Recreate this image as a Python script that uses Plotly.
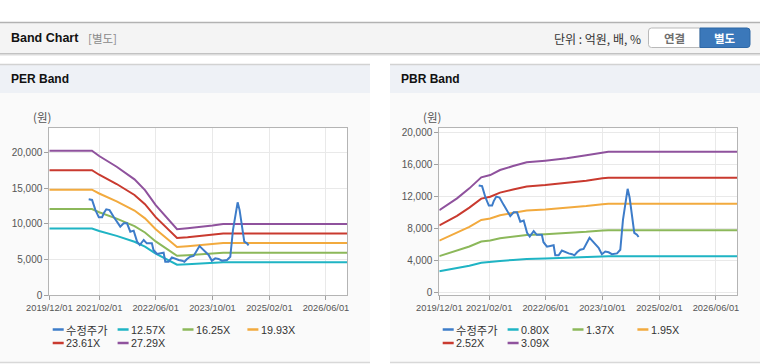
import plotly.graph_objects as go

W, H = 760, 364

# ---------------- data ----------------
x_tickvals = ["2019-12-01", "2021-02-01", "2022-06-01", "2023-10-01", "2025-02-01", "2026-06-01"]
x_ticktext = ["2019/12/01", "2021/02/01", "2022/06/01", "2023/10/01", "2025/02/01", "2026/06/01"]
x_range = ["2019-12-01", "2026-12-01"]

# EPS path (PER bands = EPS x multiple)
eps_dates = ["2019-12-01", "2020-12-01", "2021-02-01", "2021-07-01", "2021-12-01", "2022-03-01",
             "2022-06-01", "2022-09-01", "2022-12-01", "2023-03-01", "2023-07-01", "2023-10-01",
             "2024-01-01", "2026-12-01"]
eps_values = [741, 741, 714, 659, 594, 539, 462, 402, 338, 343, 350, 357, 365, 365]
per_multiples = [12.57, 16.25, 19.93, 23.61, 27.29]
per_labels = ["12.57X", "16.25X", "19.93X", "23.61X", "27.29X"]

# BPS path (PBR bands = BPS x multiple)
bps_dates = ["2019-12-01", "2020-02-01", "2020-05-01", "2020-08-15", "2020-11-25", "2021-02-10",
             "2021-05-05", "2021-08-25", "2021-12-20", "2022-05-28", "2022-11-28", "2023-05-15",
             "2023-10-01", "2023-11-20", "2026-12-01"]
bps_values = [3340, 3547, 3816, 4221, 4666, 4760, 4963, 5124, 5273, 5340, 5435, 5556, 5677, 5704, 5704]
pbr_multiples = [0.80, 1.37, 1.95, 2.52, 3.09]
pbr_labels = ["0.80X", "1.37X", "1.95X", "2.52X", "3.09X"]

price_name = "수정주가"
price_dates = ["2020-11-03", "2020-12-02", "2020-12-31", "2021-01-29", "2021-02-26", "2021-03-12",
               "2021-04-03", "2021-05-01", "2021-06-05", "2021-07-03", "2021-08-01", "2021-08-30",
               "2021-09-28", "2021-10-26", "2021-11-24", "2021-12-23", "2022-01-15", "2022-02-18",
               "2022-03-17", "2022-04-29", "2022-05-13", "2022-06-12", "2022-07-10", "2022-08-08",
               "2022-08-22", "2022-09-20", "2022-10-18", "2022-11-16", "2022-12-15", "2023-01-13",
               "2023-02-02", "2023-02-25", "2023-03-24", "2023-04-22", "2023-05-20", "2023-06-12",
               "2023-07-02", "2023-07-31", "2023-08-29", "2023-09-26", "2023-10-25", "2023-11-23",
               "2023-12-21", "2024-02-03", "2024-03-02", "2024-03-25", "2024-04-14", "2024-05-04",
               "2024-05-21", "2024-06-10", "2024-06-30", "2024-07-23", "2024-08-06"]
price_values = [13410, 13320, 11900, 10890, 10890, 11450, 12010, 11900, 10980, 10280, 9580, 10050,
                10050, 8880, 9020, 7480, 7010, 7710, 7240, 7240, 6310, 5750, 5840, 5935,
                4670, 4670, 5280, 5050, 4910, 4810, 4670, 5050, 5370, 5470, 6310, 6870,
                6540, 6075, 5610, 4810, 5140, 5050, 4810, 4910, 5370, 9110, 10980, 12990,
                11900, 9810, 7480, 7240, 6960]

per_yticks = [0, 5000, 10000, 15000, 20000]
pbr_yticks = [0, 4000, 8000, 12000, 16000, 20000]
per_yrange = [0, 23370]
pbr_yrange = [-287, 20550]

price_color = "#3d7cc9"
band_colors = ["#1fb4c4", "#8cb85a", "#f2aa3e", "#c93a2f", "#8f529d"]

FONT = "Liberation Sans, Arial, Noto Sans CJK KR, sans-serif"
KFONT = "Noto Sans CJK KR, Liberation Sans, sans-serif"


def px(x):
    return x / W


def py(y):
    return 1 - y / H


# ---------------- figure ----------------
fig = go.Figure()

for m, lab, c in zip(per_multiples, per_labels, band_colors):
    fig.add_trace(go.Scatter(x=eps_dates, y=[round(v * m) for v in eps_values], mode="lines",
                             name=lab, line=dict(color=c, width=2), xaxis="x", yaxis="y",
                             showlegend=False))
fig.add_trace(go.Scatter(x=price_dates, y=price_values, mode="lines", name=price_name,
                         line=dict(color=price_color, width=2), xaxis="x", yaxis="y",
                         showlegend=False))

for m, lab, c in zip(pbr_multiples, pbr_labels, band_colors):
    fig.add_trace(go.Scatter(x=bps_dates, y=[round(v * m) for v in bps_values], mode="lines",
                             name=lab, line=dict(color=c, width=2), xaxis="x2", yaxis="y2",
                             showlegend=False))
fig.add_trace(go.Scatter(x=price_dates, y=price_values, mode="lines", name=price_name,
                         line=dict(color=price_color, width=2), xaxis="x2", yaxis="y2",
                         showlegend=False))

# plot areas in px
per_box = (49.3, 128.3, 347.3, 295.0)
pbr_box = (439.3, 128.3, 737.3, 295.0)

axis_common = dict(showline=True, mirror=True, linecolor="#b4b4b4", linewidth=1,
                   ticks="outside", ticklen=4, tickcolor="#a0a0a0", automargin=False,
                   showgrid=True, gridcolor="#e9e9e9", gridwidth=1, zeroline=False,
                   tickfont=dict(family=FONT, size=10, color="#555"))

xcommon = dict(axis_common, type="date", range=x_range, tickmode="array",
               tickvals=x_tickvals, ticktext=x_ticktext, tickangle=0,
               tickfont=dict(family=FONT, size=9.3, color="#555"))

fig.update_layout(
    width=W, height=H, margin=dict(l=0, r=0, t=0, b=0, pad=0, autoexpand=False), autosize=False,
    paper_bgcolor="white", plot_bgcolor="rgba(0,0,0,0)",
    showlegend=False,
    xaxis=dict(xcommon, domain=[px(per_box[0]), px(per_box[2])], anchor="y"),
    yaxis=dict(axis_common, domain=[py(per_box[3]), py(per_box[1])], anchor="x",
               range=per_yrange, tickmode="array", tickvals=per_yticks,
               ticktext=[f"{v:,}" for v in per_yticks]),
    xaxis2=dict(xcommon, domain=[px(pbr_box[0]), px(pbr_box[2])], anchor="y2"),
    yaxis2=dict(axis_common, domain=[py(pbr_box[3]), py(pbr_box[1])], anchor="x2",
                range=pbr_yrange, tickmode="array", tickvals=pbr_yticks,
                ticktext=[f"{v:,}" for v in pbr_yticks]),
)

shapes = []


def rect(x0, y0, x1, y1, fill, line=None, lw=0):
    shapes.append(dict(type="rect", xref="paper", yref="paper", layer="below",
                       x0=px(x0), x1=px(x1), y0=py(y1), y1=py(y0),
                       fillcolor=fill, line=dict(color=line or fill, width=lw)))


def hline(x0, x1, y, color, w=1, layer="below"):
    shapes.append(dict(type="line", xref="paper", yref="paper", layer=layer,
                       x0=px(x0), x1=px(x1), y0=py(y), y1=py(y),
                       line=dict(color=color, width=w)))


# top header bar
rect(0, 22.5, 760, 53, "#f4f4f4")
hline(0, 760, 22.5, "#b2b2b2", 1.5)
hline(0, 760, 53.5, "#c2c2c2", 1)
hline(0, 760, 54.5, "#dcdcdc", 1)
hline(0, 760, 55.5, "#ededed", 1)

# panels
for (x0, x1) in [(0, 370), (390, 760)]:
    rect(x0, 93, x1, 362, "#fafafa")
    rect(x0, 64.5, x1, 93, "#eef1f6")
    hline(x0, x1, 64.5, "#d2d2d2", 1.5)
    hline(x0, x1, 362.5, "#d8d8d8", 1.5)

# white plot backgrounds
for b in (per_box, pbr_box):
    rect(b[0], b[1], b[2], b[3], "white")


def rounded(x0, y0, x1, y1, r, left_round, right_round):
    p = []
    if left_round:
        p.append(f"M {px(x0 + r)},{py(y0)}")
    else:
        p.append(f"M {px(x0)},{py(y0)}")
    if right_round:
        p.append(f"L {px(x1 - r)},{py(y0)} Q {px(x1)},{py(y0)} {px(x1)},{py(y0 + r)}")
        p.append(f"L {px(x1)},{py(y1 - r)} Q {px(x1)},{py(y1)} {px(x1 - r)},{py(y1)}")
    else:
        p.append(f"L {px(x1)},{py(y0)} L {px(x1)},{py(y1)}")
    if left_round:
        p.append(f"L {px(x0 + r)},{py(y1)} Q {px(x0)},{py(y1)} {px(x0)},{py(y1 - r)}")
        p.append(f"L {px(x0)},{py(y0 + r)} Q {px(x0)},{py(y0)} {px(x0 + r)},{py(y0)}")
    else:
        p.append(f"L {px(x0)},{py(y1)}")
    p.append("Z")
    return " ".join(p)


# buttons
shapes.append(dict(type="path", xref="paper", yref="paper", layer="below",
                   path=rounded(648.5, 28, 700, 47.5, 3, True, False),
                   fillcolor="white", line=dict(color="#b9b9b9", width=1)))
shapes.append(dict(type="path", xref="paper", yref="paper", layer="below",
                   path=rounded(700, 28, 750, 47.5, 3, False, True),
                   fillcolor="#3b78ba", line=dict(color="#2f68a6", width=1)))

annotations = []


def text(x, y, s, size=11, color="#333", bold=False, anchor="left", family=None):
    annotations.append(dict(xref="paper", yref="paper", x=px(x), y=py(y), text=(f"<b>{s}</b>" if bold else s),
                            showarrow=False, xanchor=anchor, yanchor="middle",
                            font=dict(family=family or FONT, size=size, color=color), borderpad=0))


text(10, 38, "Band Chart", 12.5, "#111", True)
text(87, 38.5, "[별도]", 11.5, "#8a8a8a", family=KFONT)
text(642, 38.5, "단위 : 억원, 배, %", 12, "#333", anchor="right", family=KFONT)
text(674.5, 38, "연결", 11.5, "#6f6f6f", True, "center", family=KFONT)
text(725, 38, "별도", 11.5, "white", True, "center", family=KFONT)
text(10, 79, "PER Band", 12, "#111", True)
text(400, 79, "PBR Band", 12, "#111", True)
text(32, 117, "(원)", 11.5, "#555", family=KFONT)
text(422, 117, "(원)", 11.5, "#555", family=KFONT)

# legends (custom, compact line samples)
legend_names_per = [price_name] + per_labels
legend_names_pbr = [price_name] + pbr_labels
legend_colors = [price_color] + band_colors
for x_start, names in [(52.7, legend_names_per), (442.7, legend_names_pbr)]:
    for i, (nm, c) in enumerate(zip(names, legend_colors)):
        col = i % 4
        row = i // 4
        lx = x_start + col * 64.9
        ly = 329.5 + row * 13.5
        hline(lx, lx + 11, ly, c, 2.5, layer="above")
        text(lx + 12.5, ly, nm, 11.3 if nm == price_name else 10.8, "#333",
             family=(KFONT if nm == price_name else FONT))

fig.update_layout(shapes=shapes, annotations=annotations)

fig.write_html("out.html", config={"responsive": False, "displayModeBar": False},
               post_script="document.body.style.margin='0';document.body.style.overflow='hidden';")
